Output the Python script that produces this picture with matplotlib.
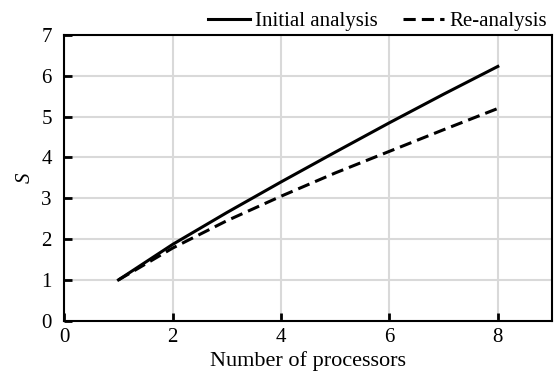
import matplotlib
matplotlib.use('Agg')
import matplotlib.pyplot as plt

processors = [1, 2, 3, 4, 5, 6, 7, 8]
initial = [1.0, 1.87, 2.65, 3.40, 4.13, 4.85, 5.55, 6.23]
reanalysis = [1.0, 1.78, 2.45, 3.05, 3.62, 4.15, 4.68, 5.20]

plt.rcParams['font.family'] = ['Liberation Serif', 'DejaVu Serif']
plt.rcParams['font.size'] = 15

fig = plt.figure(figsize=(5.55, 3.78), dpi=100)
ax = fig.add_axes([0.1159, 0.1516, 0.8787, 0.7558])

ax.plot(processors, initial, color='black', linewidth=2.2, label='Initial analysis')
ax.plot(processors, reanalysis, color='black', linewidth=2.2, linestyle=(0, (4, 2)), label='Re-analysis')

ax.set_xlim(0, 9)
ax.set_ylim(0, 7)
ax.set_xticks([0, 2, 4, 6, 8])
ax.set_yticks(range(8))
ax.grid(True, color='#d9d9d9', linewidth=1.5)
ax.set_axisbelow(True)
ax.tick_params(direction='in', length=6, width=2)
ax.tick_params(axis='y', pad=9)
ax.tick_params(axis='x', pad=5)
for s in ax.spines.values():
    s.set_linewidth(1.5)

ax.set_xlabel('Number of processors', fontsize=16, labelpad=3)
ax.set_ylabel('S', style='italic', labelpad=5)

ax.legend(loc='lower right', bbox_to_anchor=(1.016, 0.97), ncol=2, frameon=False,
          handlelength=2.0, columnspacing=1.2, handletextpad=0.25, borderpad=0.1)

fig.savefig('out.png', dpi=100)
